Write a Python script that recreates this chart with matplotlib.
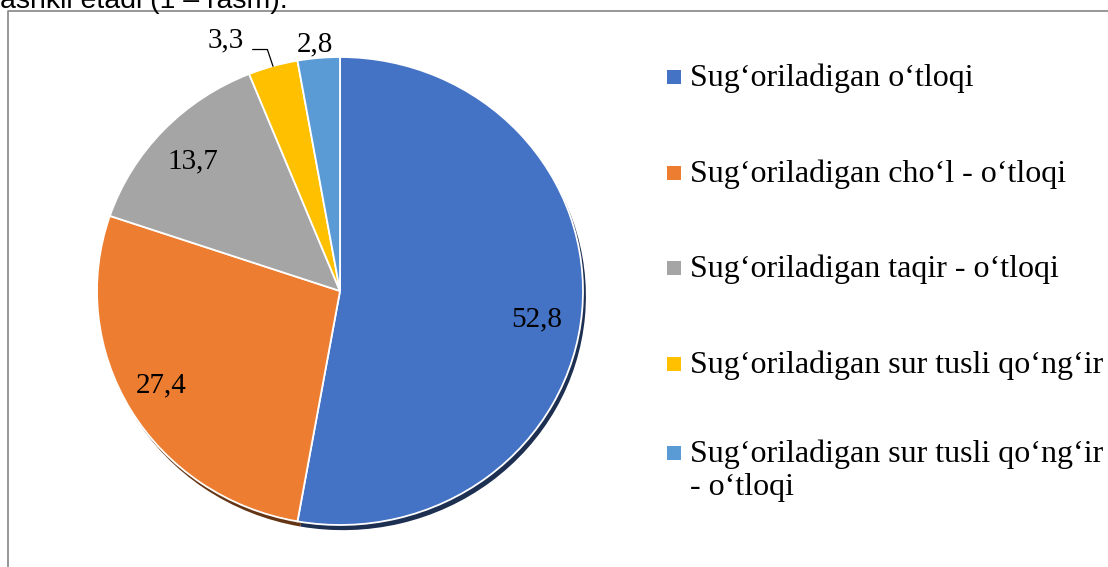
import numpy as np
import matplotlib
matplotlib.use("Agg")
import matplotlib.pyplot as plt
from matplotlib.patches import Rectangle
from matplotlib.colors import to_rgb

# ---- data ----
categories = [
    "Sug‘oriladigan o‘tloqi",
    "Sug‘oriladigan cho‘l - o‘tloqi",
    "Sug‘oriladigan taqir - o‘tloqi",
    "Sug‘oriladigan sur tusli qo‘ng‘ir",
    "Sug‘oriladigan sur tusli qo‘ng‘ir\n- o‘tloqi",
]
values = [52.8, 27.4, 13.7, 3.3, 2.8]
value_labels = ["52,8", "27,4", "13,7", "3,3", "2,8"]
colors = ["#4472C4", "#ED7D31", "#A5A5A5", "#FFC000", "#5B9BD5"]
top_text = "ashkil etadi (1 – rasm)."

# ---- style / layout ----
W, H = 1108, 567
label_r = [0.82, 0.84, 0.82, 1.17, 1.06]
label_dang = [-3.4, -2.0, 1.0, 7.6, 0.5]
serif = ["Liberation Serif", "DejaVu Serif"]

fig = plt.figure(figsize=(W / 100, H / 100), dpi=100)
fig.patch.set_facecolor("white")

# background axes in image pixel coordinates
bg = fig.add_axes([0, 0, 1, 1])
bg.set_xlim(0, W)
bg.set_ylim(H, 0)
bg.axis("off")

# frame of chart
bg.plot([8, 8, W + 5], [H + 5, 11, 11], color="#858585", lw=1.2, solid_capstyle="butt")
# cut-off caption text
bg.text(0, 8, top_text, family=["Liberation Sans", "DejaVu Sans"], fontsize=20.5,
        ha="left", va="baseline", color="black")

# legend (manual)
row_baselines = [86, 182, 277, 373, 462]
line_pitch = 33
for cat, col, yb in zip(categories, colors, row_baselines):
    bg.add_patch(Rectangle((667, yb - 16), 14, 14, facecolor=col, edgecolor="none"))
    for k, line in enumerate(cat.split("\n")):
        bg.text(690, yb + k * line_pitch, line, family=serif, fontsize=23,
                ha="left", va="baseline", color="black")

# pie axes (slightly elliptical like the reference)
cx, cy_top, cy_bot, rx = 340, 57, 525, 243
ax = fig.add_axes([(cx - rx) / W, (H - cy_bot) / H, 2 * rx / W, (cy_bot - cy_top) / H])
ax.set_xlim(-1, 1)
ax.set_ylim(-1, 1)
ax.set_aspect("auto")
ax.axis("off")

shadow_cols = [tuple(c * 0.42 for c in to_rgb(col)) for col in colors]
ax.pie(values, colors=shadow_cols, startangle=90, counterclock=False,
       center=(0.012, -0.022), radius=1.0, frame=False, normalize=True,
       wedgeprops=dict(linewidth=0))
ax.set_xlim(-1, 1)
ax.set_ylim(-1, 1)
ax.set_aspect("auto")
wedges, _ = ax.pie(values, colors=colors, startangle=90, counterclock=False,
                   center=(0, 0), radius=1.0, frame=False, normalize=True,
                   wedgeprops=dict(linewidth=1.3, edgecolor="white"))
ax.set_xlim(-1, 1)
ax.set_ylim(-1, 1)
ax.set_aspect("auto")
ax.axis("off")

for i, (w, lab) in enumerate(zip(wedges, value_labels)):
    mid = 0.5 * (w.theta1 + w.theta2)
    ang = np.deg2rad(mid + label_dang[i])
    x, y = label_r[i] * np.cos(ang), label_r[i] * np.sin(ang)
    ax.text(x, y, lab, family=serif, fontsize=21, ha="center", va="center",
            color="black", clip_on=False)
    if label_r[i] > 1.1:
        m = np.deg2rad(mid)
        ex, ey = 1.0 * np.cos(m), 1.0 * np.sin(m)
        ax.plot([x + 0.11, x + 0.17, ex], [y - 0.04, y - 0.04, ey],
                color="black", lw=0.9, clip_on=False)

fig.savefig("out.png", dpi=100, facecolor="white")
